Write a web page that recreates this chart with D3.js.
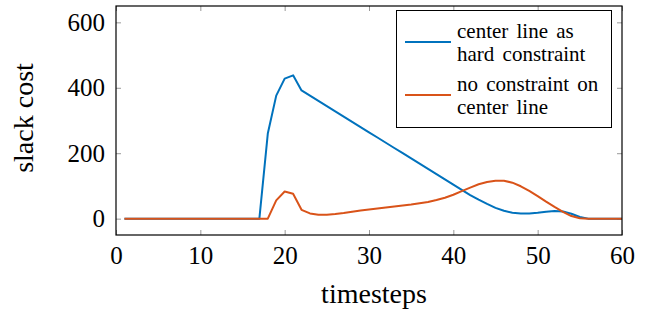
<!DOCTYPE html>
<html lang="en">
<head>
<meta charset="utf-8">
<title>slack cost</title>
<script src="https://d3js.org/d3.v7.min.js"></script>
</head>
<body style="margin:0;background:#fff">
<script>
var w = 653, h = 316;

// timesteps 1..60
var steps = d3.range(1, 61);
var hardConstraint = [
  0,0,0,0,0,0,0,0,0,0, 0,0,0,0,0,0,0,260,376,428,
  438,392,376,360,344,328,312,296,280,264, 248,232,216,200,184,168,152,136,120,104,
  88,72,58,45,33,24,18,16,16,18, 21,23,22,15,5,0,0,0,0,0
];
var noConstraint = [
  0,0,0,0,0,0,0,0,0,0, 0,0,0,0,0,0,0,0,56,83,
  76,27,16,12,12,14,17,21,25,28, 31,34,37,40,43,47,51,57,64,73,
  84,95,105,112,116,116,110,99,85,69, 52,36,21,8,1,0,0,0,0,0
];
var seriesNames = [["center line as", "hard constraint"], ["no constraint on", "center line"]];
var colors = ["#0072BD", "#D95319"];
var xTicks = [0, 10, 20, 30, 40, 50, 60];
var yTicks = [0, 200, 400, 600];

var mLeft = 116, mRight = 622, mTop = 6, mBottom = 235;
var serif = "'Liberation Serif', monospace";

var svg = d3.select("body").append("svg").attr("width", w).attr("height", h);

var x = d3.scaleLinear().domain([0, 60]).range([mLeft, mRight]);
var y = d3.scaleLinear().domain([-50, 650]).range([mBottom, mTop]);

function tickText(sel) {
  sel.select(".domain").remove();
  sel.selectAll(".tick line").attr("stroke", "#999");
  sel.selectAll("text").style("font-family", serif).style("font-size", "25px").attr("fill", "#000");
}

// ticks, inward on all four sides
svg.append("g").attr("transform", "translate(0," + mBottom + ")")
  .call(d3.axisBottom(x).tickValues(xTicks).tickSize(-5).tickPadding(11)).call(tickText);
svg.append("g").attr("transform", "translate(0," + mTop + ")")
  .call(d3.axisTop(x).tickValues(xTicks).tickSize(-5).tickFormat("")).call(tickText);
svg.append("g").attr("transform", "translate(" + mLeft + ",0)")
  .call(d3.axisLeft(y).tickValues(yTicks).tickSize(-5).tickPadding(11)).call(tickText);
svg.append("g").attr("transform", "translate(" + mRight + ",0)")
  .call(d3.axisRight(y).tickValues(yTicks).tickSize(-5).tickFormat("")).call(tickText);

var line = d3.line().x(function(d, i) { return x(steps[i]); }).y(function(d) { return y(d); });

[hardConstraint, noConstraint].forEach(function(s, k) {
  svg.append("path").datum(s)
    .attr("d", line)
    .attr("fill", "none")
    .attr("stroke", colors[k])
    .attr("stroke-width", 2)
    .attr("stroke-linejoin", "round");
});

// frame
svg.append("rect").attr("x", mLeft).attr("y", mTop)
  .attr("width", mRight - mLeft).attr("height", mBottom - mTop)
  .attr("fill", "none").attr("stroke", "#000").attr("stroke-width", 1.2);

// legend
var lg = svg.append("g");
lg.append("rect").attr("x", 396.5).attr("y", 10.5).attr("width", 215).attr("height", 117)
  .attr("fill", "#fff").attr("stroke", "#000").attr("stroke-width", 1);
seriesNames.forEach(function(lines, k) {
  var yy = 42 + k * 53;
  lg.append("line").attr("x1", 405).attr("x2", 451).attr("y1", yy).attr("y2", yy)
    .attr("stroke", colors[k]).attr("stroke-width", 2);
  lines.forEach(function(t, j) {
    lg.append("text").attr("x", 457).attr("y", yy - 4 + j * 22.5)
      .style("font-family", serif).style("font-size", "21px")
      .style("word-spacing", "3px").text(t);
  });
});

// axis labels
svg.append("text").attr("x", 374).attr("y", 303).attr("text-anchor", "middle")
  .style("font-family", serif).style("font-size", "28px").text("timesteps");
svg.append("text").attr("transform", "translate(33,118) rotate(-90)")
  .attr("text-anchor", "middle")
  .style("font-family", serif).style("font-size", "28px").text("slack cost");
</script>
</body>
</html>
